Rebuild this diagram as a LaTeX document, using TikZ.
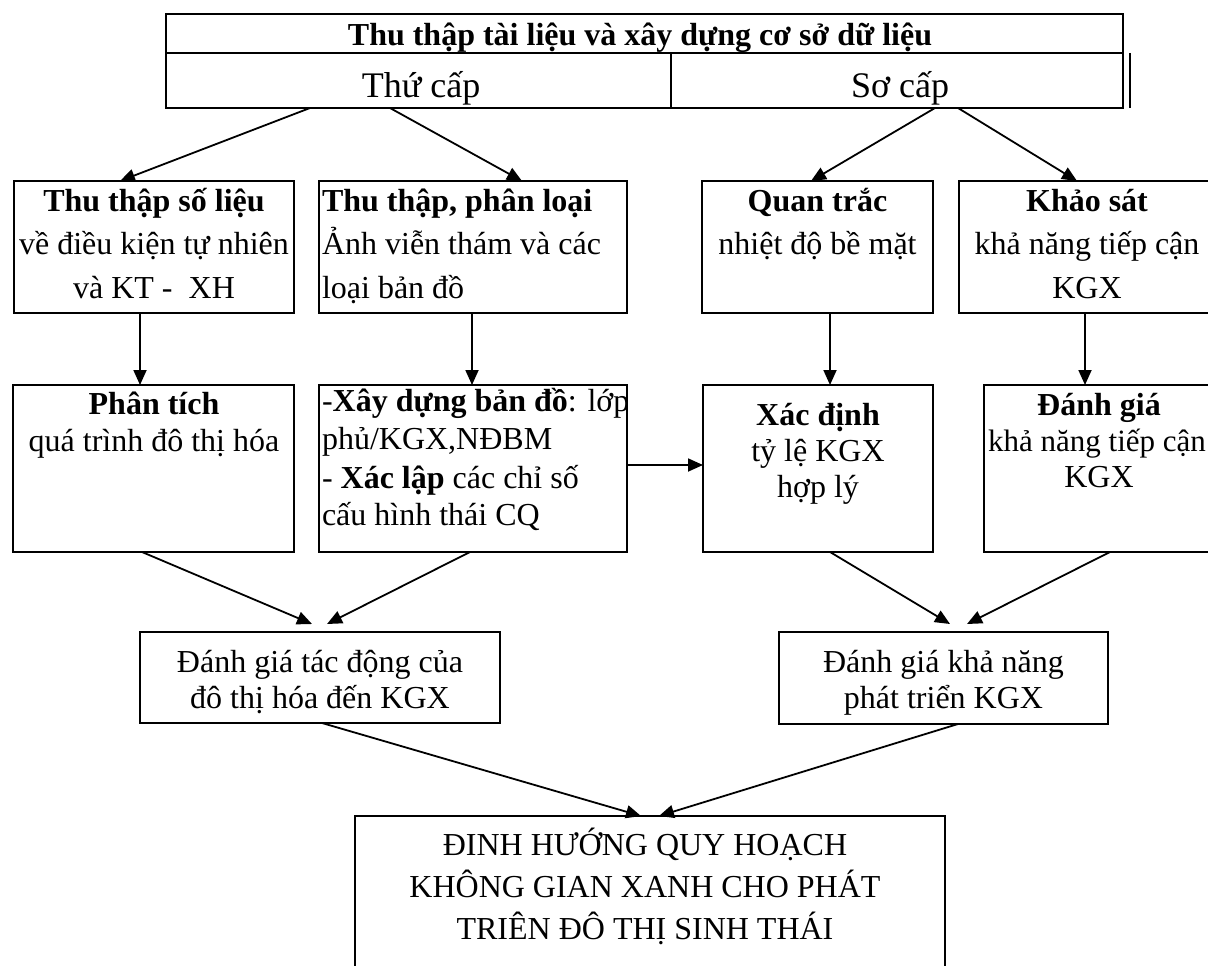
\documentclass[tikz,border=0pt]{standalone}
\usepackage{fontspec}
\setmainfont{Liberation Serif}
\usetikzlibrary{arrows.meta}
\begin{document}
\begin{tikzpicture}[x=1pt,y=-1pt,
  box/.style={draw, line width=1.8pt, inner sep=0pt, outer sep=0pt},
  txt/.style={inner sep=0pt, outer sep=0pt, font=\fontsize{32}{38}\selectfont},
  btxt/.style={inner sep=0pt, outer sep=0pt, font=\fontsize{32}{38}\selectfont\bfseries},
  big/.style={inner sep=0pt, outer sep=0pt, font=\fontsize{36}{42}\selectfont},
  arr/.style={line width=1.8pt, -{Triangle[length=15pt,width=13pt]}},
  ln/.style={line width=1.8pt}]
\useasboundingbox (0,0) rectangle (1208,966);
\clip (0,0) rectangle (1208,966);
% top block
\node[box, minimum width=957pt, minimum height=39pt] (tt) at (644.5,33.5) {};
\node[box, minimum width=505pt, minimum height=55pt] (th) at (418.5,80.5) {};
\node[box, minimum width=452pt, minimum height=55pt] (sc) at (897,80.5) {};
\draw[line width=1.2pt] (sc.north east) ++(7pt,0) coordinate (scx) -- (sc.south east -| scx);
\node[btxt, anchor=base] (ttT) at (640,46) {Thu thập tài liệu và xây dựng cơ sở dữ liệu};
\node[big, anchor=base] (thT) at (421,98) {Thứ cấp};
\node[big, anchor=base] (scT) at (900,98) {Sơ cấp};
% row 1
\node[box, minimum width=280pt, minimum height=132pt] (A) at (154,247) {};
\node[box, minimum width=308pt, minimum height=132pt] (B) at (473,247) {};
\node[box, minimum width=231pt, minimum height=132pt] (C) at (817.5,247) {};
\node[box, minimum width=254pt, minimum height=132pt] (D) at (1086,247) {};
\node[btxt, anchor=base] (A1) at (154,211) {Thu thập số liệu};
\node[txt, anchor=base] (A2t) at (154,254) {về điều kiện tự nhiên};
\node[txt, anchor=base] (A3) at (154,298) {và KT -\ \ XH};
\node[btxt, anchor=base west] (B1) at (322,211) {Thu thập, phân loại};
\node[txt, anchor=base west] (B2t) at (322,254) {Ảnh viễn thám và các};
\node[txt, anchor=base west] (B3) at (322,298) {loại bản đồ};
\node[btxt, anchor=base] (C1) at (817.5,211) {Quan trắc};
\node[txt, anchor=base] (C2t) at (817.5,254) {nhiệt độ bề mặt};
\node[btxt, anchor=base] (D1) at (1087,211) {Khảo sát};
\node[txt, anchor=base] (D2t) at (1087,254) {khả năng tiếp cận};
\node[txt, anchor=base] (D3) at (1087,298) {KGX};
% row 2
\node[box, minimum width=281pt, minimum height=167pt] (AA) at (153.5,468.5) {};
\node[box, minimum width=308pt, minimum height=167pt] (BB) at (473,468.5) {};
\node[box, minimum width=230pt, minimum height=167pt] (CC) at (818,468.5) {};
\node[box, minimum width=230pt, minimum height=167pt] (DD) at (1099,468.5) {};
\node[btxt, anchor=base] (AA1) at (154,414) {Phân tích};
\node[txt, anchor=base] (AA2) at (154,451) {quá trình đô thị hóa};
\node[txt, anchor=base west] (BB1) at (322,411) {-\textbf{Xây dựng bản đồ}: lớp};
\node[txt, anchor=base west] (BB2) at (322,449) {phủ/KGX,NĐBM};
\node[txt, anchor=base west] (BB3) at (322,488) {- \textbf{Xác lập} các chỉ số};
\node[txt, anchor=base west] (BB4) at (322,525) {cấu hình thái CQ};
\node[btxt, anchor=base] (CC1) at (818,425) {Xác định};
\node[txt, anchor=base] (CC2) at (818,461) {tỷ lệ KGX};
\node[txt, anchor=base] (CC3) at (818,497) {hợp lý};
\node[btxt, anchor=base] (DD1) at (1099,415) {Đánh giá};
\node[txt, anchor=base, font=\fontsize{31}{37}\selectfont] (DD2) at (1097,451) {khả năng tiếp cận};
\node[txt, anchor=base] (DD3) at (1099,487) {KGX};
% row 3
\node[box, minimum width=360pt, minimum height=91pt] (E) at (320,677.5) {};
\node[box, minimum width=329pt, minimum height=92pt] (F) at (943.5,678) {};
\node[txt, anchor=base] (E1) at (320,672) {Đánh giá tác động của};
\node[txt, anchor=base] (E2) at (320,708) {đô thị hóa đến KGX};
\node[txt, anchor=base] (F1) at (943.5,672) {Đánh giá khả năng};
\node[txt, anchor=base] (F2) at (943.5,708) {phát triển KGX};
% final
\node[box, minimum width=590pt, minimum height=174pt] (G) at (650,903) {};
\node[txt, anchor=base] (G1) at (645,855) {ĐINH HƯỚNG QUY HOẠCH};
\node[txt, anchor=base] (G2) at (645,897) {KHÔNG GIAN XANH CHO PHÁT};
\node[txt, anchor=base] (G3) at (645,939) {TRIÊN ĐÔ THỊ SINH THÁI};
% tip coordinates
\coordinate (eL) at (312,624);
\coordinate (eR) at (327,624);
\coordinate (fL) at (950,624);
\coordinate (fR) at (967,624);
% connectors
\draw[arr] (th.south -| 310,0) -- (A.north -| 120,0);
\draw[arr] (th.south -| 390,0) -- (B.north -| 522,0);
\draw[arr] (sc.south -| 935,0) -- (C.north -| 811,0);
\draw[arr] (sc.south -| 958,0) -- (D.north -| 1077,0);
\draw[arr] (A.south -| 140,0) -- (AA.north -| 140,0);
\draw[arr] (B.south -| 472,0) -- (BB.north -| 472,0);
\draw[arr] (C.south -| 830,0) -- (CC.north -| 830,0);
\draw[arr] (D.south -| 1085,0) -- (DD.north -| 1085,0);
\draw[arr] (BB.east |- 0,465) -- (CC.west |- 0,465);
\draw[arr] (AA.south -| 142,0) -- (eL);
\draw[arr] (BB.south -| 470,0) -- (eR);
\draw[arr] (CC.south -| 830,0) -- (fL);
\draw[arr] (DD.south -| 1110,0) -- (fR);
\draw[arr] (E.south -| 322,0) -- (G.north -| 641,0);
\draw[arr] (F.south -| 958,0) -- (G.north -| 659,0);
\end{tikzpicture}
\end{document}
